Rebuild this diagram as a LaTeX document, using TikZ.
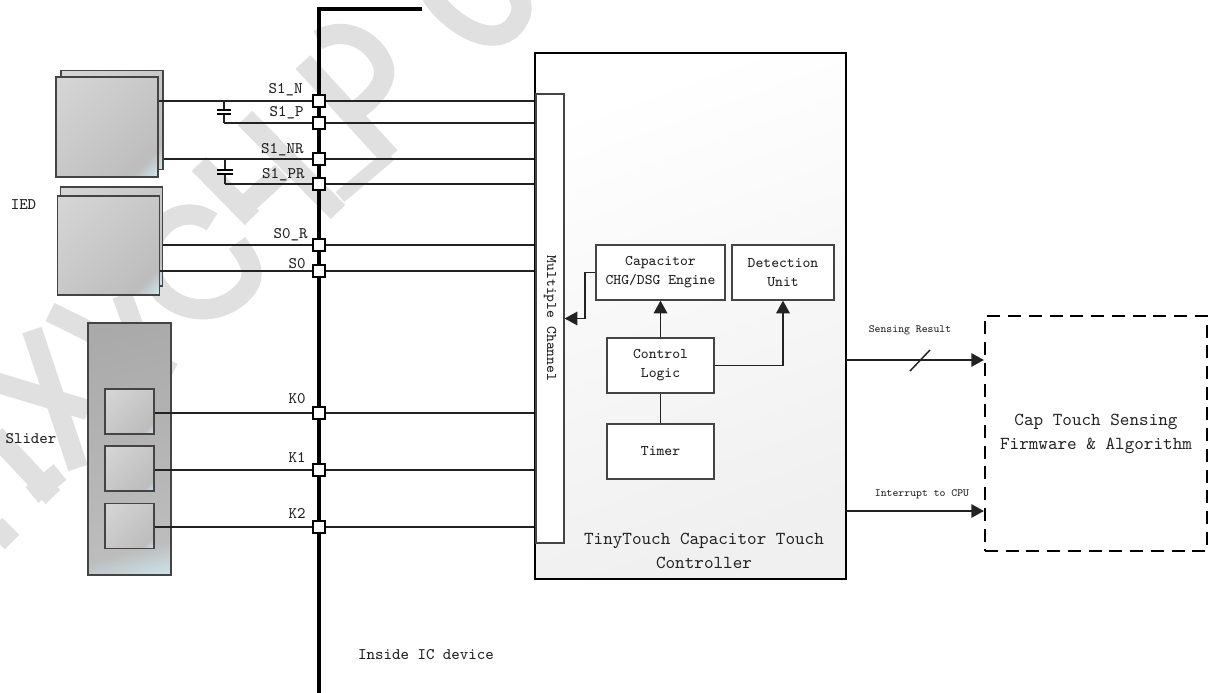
\documentclass[tikz,border=0pt]{standalone}
\usetikzlibrary{arrows.meta,positioning}
\definecolor{chipInk}{HTML}{222222}
\definecolor{chipMark}{HTML}{E0E0E0}
\definecolor{chipEdge}{HTML}{444444}
\definecolor{chipTint}{HTML}{CDE6EC}
\pgfdeclareverticalshading{padshade}{100bp}{color(0bp)=(chipTint);color(15bp)=(chipTint);color(24bp)=(black!26);color(85bp)=(black!16);color(100bp)=(black!16)}
\pgfdeclareverticalshading{slidershade}{100bp}{color(0bp)=(chipTint);color(19bp)=(chipTint);color(27bp)=(black!26);color(81bp)=(black!34);color(100bp)=(black!34)}
\tikzset{
  every picture/.style={font=\ttfamily\fontsize{9.2pt}{11pt}\selectfont, text=chipInk},
  chip mark/.style={draw=chipMark, line width=11.5pt, line cap=butt, line join=round},
  chip bus/.style={draw=black, line width=1.72pt, line join=miter},
  chip wire/.style={draw=chipInk, line width=0.85pt},
  chip plate/.style={draw=black, line width=0.85pt},
  chip link/.style={draw=chipInk, line width=1.1pt},
  chip arrow/.style={-{Triangle[length=7.2pt,width=7.6pt]}, chip link},
  chip pad/.style={draw=chipEdge, line width=0.7pt, inner sep=0pt, shading=padshade, shading angle=45},
  chip box/.style={draw=chipEdge, line width=0.7pt, fill=white, align=center, inner sep=0pt},
  chip port/.style={draw=black, line width=1.2pt, fill=white, inner sep=0pt, minimum size=6.6pt},
  chip tag/.style={inner sep=0pt, anchor=east},
  chip small/.style={inner sep=0pt, font=\ttfamily\fontsize{6.3pt}{8pt}\selectfont},
  chip big/.style={inner sep=0pt, align=center, font=\ttfamily\fontsize{10.4pt}{13.6pt}\selectfont}
}
\begin{document}
\begin{tikzpicture}[x=0.02cm,y=-0.02cm]
  \useasboundingbox (0,0) rectangle (1211,693);
  \clip (0,0) rectangle (1211,693);
  % watermark
  \draw[chip mark] (431,-5) .. controls (450,25) and (494,50) .. (514,26) .. controls (525,12) and (522,5) .. (518,-5);
  \draw[chip mark] (303,62) -- (390,157);
  \draw[chip mark] (318,40) .. controls (345,25) and (372,40) .. (382,62) .. controls (392,85) and (365,105) .. (347,117);
  \draw[chip mark] (245,118) -- (338,212);
  \draw[chip mark, line width=7.5pt] (340,197) -- (390,155);
  \draw[chip mark] (199,164) -- (252,218);
  \draw[chip mark] (248,203) -- (282,172);
  \draw[chip mark] (212,222) .. controls (180,200) and (145,230) .. (150,265) .. controls (155,310) and (215,325) .. (245,290) .. controls (258,275) and (250,260) .. (237,243);
  \draw[chip mark] (50,312) -- (173,373);
  \draw[chip mark] (122,295) -- (133,325);
  \draw[chip mark] (32,330) -- (78,468);
  \draw[chip mark] (-5,382) -- (88,410);
  \draw[chip mark] (-5,435) -- (53,497);
  \draw[chip mark] (32,495) -- (60,472);
  \draw[chip mark] (-5,525) -- (12,542);
  % bus
  \coordinate (busend) at (422,9);
  \coordinate (buscorner) at (319,9);
  \coordinate (busfoot) at (319,693);
  \draw[chip bus] (busend) -- (buscorner) -- (busfoot);
  \node[chip port] (s1n) at (319,101) {};
  \node[chip port] (s1p) at (319,123) {};
  \node[chip port] (s1nr) at (319,159) {};
  \node[chip port] (s1pr) at (319,184) {};
  \node[chip port] (s0r) at (319,245) {};
  \node[chip port] (s0) at (319,271) {};
  \node[chip port] (k0) at (319,413) {};
  \node[chip port] (k1) at (319,470) {};
  \node[chip port] (k2) at (319,527) {};
  \node[chip tag] (s1nlabel) at (303,90) {S1\_N};
  \node[chip tag] (s1plabel) at (304,113) {S1\_P};
  \node[chip tag] (s1nrlabel) at (304,150) {S1\_NR};
  \node[chip tag] (s1prlabel) at (305,175) {S1\_PR};
  \node[chip tag] (s0rlabel) at (308,235) {S0\_R};
  \node[chip tag] (s0label) at (306,264) {S0};
  \node[chip tag] (k0label) at (306,399) {K0};
  \node[chip tag] (k1label) at (306,457) {K1};
  \node[chip tag] (k2label) at (306,513) {K2};
  % sensing pads
  \node[chip pad, minimum width=2.04cm, minimum height=1.99cm] (padaback) at (112,120) {};
  \node[chip pad, minimum width=2.04cm, minimum height=2cm] (pada) at (107,127) {};
  \node[chip pad, minimum width=2.04cm, minimum height=1.98cm] (padbback) at (111.5,236.5) {};
  \node[chip pad, minimum width=2.03cm, minimum height=1.98cm] (padb) at (108.5,245.5) {};
  \node[chip pad, shading=slidershade, shading angle=15, line width=1pt, minimum width=1.66cm, minimum height=5.04cm] (slider) at (129.5,449) {};
  \node[chip pad, minimum width=0.98cm, minimum height=0.9cm] (keya) at (129.5,411.5) {};
  \node[chip pad, minimum width=0.98cm, minimum height=0.9cm] (keyb) at (129.5,468.5) {};
  \node[chip pad, minimum width=0.98cm, minimum height=0.9cm] (keyc) at (129.5,526) {};
  \node[inner sep=0pt] (iedlabel) at (23.5,205) {IED};
  \node[inner sep=0pt] (sliderlabel) at (31,439) {Slider};
  \node[inner sep=0pt] (insidelabel) at (426,655) {Inside IC device};
  % controller
  \node[draw=black, line width=1.2pt, inner sep=0pt, top color=white, bottom color=black!6, shading angle=20,
    minimum width=6.22cm, minimum height=10.52cm] (ctrl) at (690.5,316) {};
  \node[chip box, minimum width=0.56cm, minimum height=8.98cm] (mux) at (550,318.5) {};
  \node[rotate=-90, inner sep=0pt, font=\ttfamily\fontsize{8.4pt}{10pt}\selectfont] (muxlabel) at (mux.center) {Multiple Channel};
  \node[chip box, minimum width=2.58cm, minimum height=1.1cm, font=\ttfamily\fontsize{8.4pt}{10.9pt}\selectfont] (engine) at (660.5,272.5) {Capacitor\\CHG/DSG Engine};
  \node[chip box, minimum width=2.04cm, minimum height=1.1cm, font=\ttfamily\fontsize{8.4pt}{10.9pt}\selectfont] (detect) at (783,272.5) {Detection\\Unit};
  \node[chip box, minimum width=2.14cm, minimum height=1.1cm, font=\ttfamily\fontsize{8.4pt}{10.9pt}\selectfont] (logic) at (660.5,365.5) {Control\\Logic};
  \node[chip box, minimum width=2.14cm, minimum height=1.1cm, font=\ttfamily\fontsize{8.4pt}{10.9pt}\selectfont] (timer) at (660.5,451.5) {Timer};
  \node[chip big] (ctrllabel) at (704,551) {TinyTouch Capacitor Touch\\Controller};
  \draw[chip link] (timer) -- (logic);
  \draw[chip arrow] (logic) -- (engine);
  \draw[chip arrow] (logic.east) -| (detect.south);
  \draw[chip arrow] (engine.west) -- ++(-10,0) |- (mux.east);
  % firmware
  \node[draw=black, line width=1.2pt, dash pattern=on 7.4pt off 4.4pt, inner sep=0pt, chip big,
    minimum width=4.44cm, minimum height=4.7cm] (firmware) at (1096,433.5) {Cap Touch Sensing\\Firmware \& Algorithm};
  \coordinate (resultout) at (846,360);
  \coordinate (irqout) at (846,511);
  \draw[chip arrow] (resultout) -- (resultout -| firmware.west);
  \draw[chip arrow] (irqout) -- (irqout -| firmware.west);
  \coordinate (slashlow) at (910,371);
  \coordinate (slashhigh) at (930,350);
  \draw[chip wire] (slashlow) -- (slashhigh);
  \node[chip small] (resultlabel) at (910,330) {Sensing Result};
  \node[chip small] (irqlabel) at (922,494) {Interrupt to CPU};
  % wires
  \draw[chip wire] (pada.east |- s1n) -- (s1n.west);
  \draw[chip wire] (padaback.east |- s1nr) -- (s1nr.west);
  \draw[chip wire] (padbback.east |- s0r) -- (s0r.west);
  \draw[chip wire] (padb.east |- s0) -- (s0.west);
  \draw[chip wire] (keya.east |- k0) -- (k0.west);
  \draw[chip wire] (keyb.east |- k1) -- (k1.west);
  \draw[chip wire] (keyc.east |- k2) -- (k2.west);
  \coordinate (capatop) at (224,101);
  \coordinate (capabot) at (224,123);
  \coordinate (capbtop) at (225,159);
  \coordinate (capbbot) at (225,184);
  \draw[chip wire] (capatop) -- ++(0,9.5);
  \draw[chip wire] (capabot) -- ++(0,-9);
  \draw[chip wire] (capabot) -- (s1p.west);
  \draw[chip wire] (capbtop) -- ++(0,11);
  \draw[chip wire] (capbbot) -- ++(0,-10);
  \draw[chip wire] (capbbot) -- (s1pr.west);
  \draw[chip plate] (217,110) -- (231,110);
  \draw[chip plate] (217,114) -- (231,114);
  \draw[chip plate] (217,170) -- (233,170);
  \draw[chip plate] (217,174) -- (233,174);
  \foreach \port in {s1n,s1p,s1nr,s1pr,s0r,s0,k0,k1,k2}
    \draw[chip wire] (\port.east) -- (\port -| ctrl.west);
\end{tikzpicture}
\end{document}
